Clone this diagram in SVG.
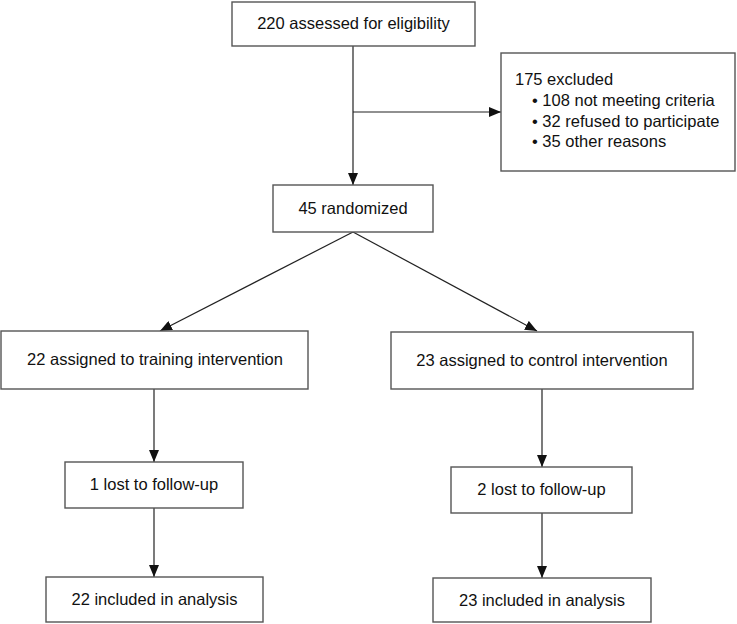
<svg xmlns="http://www.w3.org/2000/svg" width="737" height="624" viewBox="0 0 737 624">
<defs>
<marker id="ah" markerUnits="userSpaceOnUse" markerWidth="12" markerHeight="10" viewBox="0 0 12 10" refX="12" refY="5" orient="auto">
<path d="M0,0 L12,5 L0,10 Z" fill="#111"/>
</marker>
<style>
.box{fill:#fff;stroke:#555;stroke-width:1.4}
.t{font-family:"Liberation Sans",Arial,sans-serif;font-size:16.5px;fill:#111}
.c{text-anchor:middle}
.ln{fill:none;stroke:#222;stroke-width:1.2}
</style>
</defs>
<rect width="737" height="624" fill="#fff"/>
<g id="connectors">
<line class="ln" x1="353" y1="46" x2="353" y2="185" marker-end="url(#ah)"/>
<line class="ln" x1="353" y1="112" x2="501" y2="112" marker-end="url(#ah)"/>
<line class="ln" x1="353" y1="232" x2="160" y2="331" marker-end="url(#ah)"/>
<line class="ln" x1="353" y1="232" x2="537" y2="331" marker-end="url(#ah)"/>
<line class="ln" x1="154" y1="389" x2="154" y2="462" marker-end="url(#ah)"/>
<line class="ln" x1="542" y1="389" x2="542" y2="467" marker-end="url(#ah)"/>
<line class="ln" x1="154" y1="508" x2="154" y2="577" marker-end="url(#ah)"/>
<line class="ln" x1="542" y1="513" x2="542" y2="578" marker-end="url(#ah)"/>
</g>
<g id="assessed">
<rect class="box" x="232" y="2" width="243" height="44"/>
<text class="t c" x="353.5" y="29">220 assessed for eligibility</text>
</g>
<g id="excluded">
<rect class="box" x="501" y="53" width="234" height="118"/>
<text class="t" x="515" y="85">175 excluded</text>
<text class="t" x="532" y="106">• 108 not meeting criteria</text>
<text class="t" x="532" y="127">• 32 refused to participate</text>
<text class="t" x="532" y="147">• 35 other reasons</text>
</g>
<g id="randomized">
<rect class="box" x="273" y="185" width="160" height="47"/>
<text class="t c" x="353" y="214">45 randomized</text>
</g>
<g id="training">
<rect class="box" x="1" y="331" width="307" height="58"/>
<text class="t c" x="155" y="365">22 assigned to training intervention</text>
</g>
<g id="control">
<rect class="box" x="391" y="332" width="302" height="57"/>
<text class="t c" x="542" y="366">23 assigned to control intervention</text>
</g>
<g id="lost1">
<rect class="box" x="65" y="462" width="178" height="46"/>
<text class="t c" x="154" y="490">1 lost to follow-up</text>
</g>
<g id="lost2">
<rect class="box" x="451" y="467" width="181" height="46"/>
<text class="t c" x="541.5" y="495">2 lost to follow-up</text>
</g>
<g id="included1">
<rect class="box" x="46" y="577" width="217" height="45"/>
<text class="t c" x="154.5" y="605">22 included in analysis</text>
</g>
<g id="included2">
<rect class="box" x="433" y="578" width="218" height="44"/>
<text class="t c" x="542" y="606">23 included in analysis</text>
</g>
</svg>
